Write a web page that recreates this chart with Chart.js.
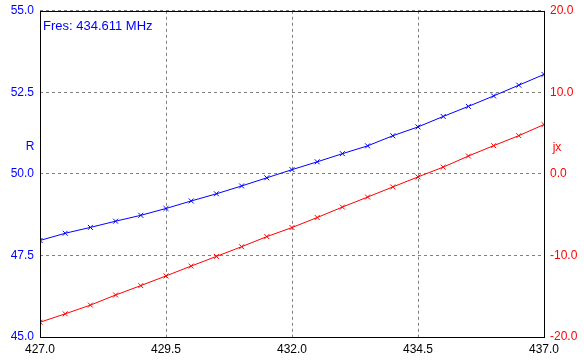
<!DOCTYPE html>
<html>
<head>
<meta charset="utf-8">
<script src="https://cdn.jsdelivr.net/npm/chart.js@4"></script>
<style>
  html, body { margin: 0; padding: 0; background: #fff; }
  #wrap { width: 584px; height: 362px; }
</style>
</head>
<body>
<div id="wrap"><canvas id="imp-chart"></canvas></div>
<script>
const freqs    = [427.0, 427.5, 428.0, 428.5, 429.0, 429.5, 430.0, 430.5, 431.0, 431.5, 432.0,
                  432.5, 433.0, 433.5, 434.0, 434.5, 435.0, 435.5, 436.0, 436.5, 437.0];
const rValues  = [47.96, 48.18, 48.36, 48.55, 48.73, 48.94, 49.17, 49.39, 49.63, 49.88, 50.13,
                  50.37, 50.62, 50.86, 51.17, 51.44, 51.76, 52.07, 52.39, 52.72, 53.05];
const jxValues = [-18.19, -17.16, -16.09, -14.85, -13.70, -12.51, -11.30, -10.12, -8.93, -7.69, -6.58,
                  -5.35, -4.07, -2.84, -1.60, -0.37, 0.83, 2.19, 3.46, 4.69, 6.05];
const xTicks   = [427.0, 429.5, 432.0, 434.5, 437.0];
const rTicks   = [45.0, 47.5, 50.0, 52.5, 55.0];
const jxTicks  = [-20.0, -10.0, 0.0, 10.0, 20.0];
const fresLabel = 'Fres: 434.611 MHz';

const FAMILY = '"Liberation Sans", Arial, sans-serif';
const FONT = { family: FAMILY, size: 12 };
const YFONT = { family: FAMILY, size: 12, lineHeight: 0.8 };  // keeps the top edge near 10px
const BLUE = '#0000ff', RED = '#ff0000';

// frame, the resonance note and the two side labels
const overlay = {
  id: 'overlay',
  afterDraw(chart) {
    const { ctx, chartArea: a } = chart;
    ctx.save();
    ctx.strokeStyle = '#000';
    ctx.lineWidth = 1;
    ctx.setLineDash([]);
    ctx.strokeRect(Math.round(a.left) + 0.5, Math.round(a.top) + 0.5,
                   Math.round(a.right - a.left), Math.round(a.bottom - a.top));
    ctx.textBaseline = 'middle';
    ctx.fillStyle = BLUE;
    ctx.textAlign = 'left';
    ctx.font = `13px ${FAMILY}`;
    ctx.fillText(fresLabel, a.left + 3, a.top + 16);
    ctx.font = `12px ${FAMILY}`;
    ctx.textAlign = 'center';
    ctx.fillText('R', 30, 147);
    ctx.fillStyle = RED;
    ctx.fillText('jx', 557, 148);
    ctx.restore();
  }
};

const fixedTicks = list => scale => { scale.ticks = list.map(v => ({ value: v })); };

new Chart(document.getElementById('imp-chart'), {
  type: 'line',
  data: {
    datasets: [
      {
        label: 'R',
        data: freqs.map((f, i) => ({ x: f, y: rValues[i] })),
        borderColor: BLUE, backgroundColor: BLUE, borderWidth: 1,
        pointStyle: 'crossRot', pointRadius: 3.5, pointBorderWidth: 1,
        tension: 0, yAxisID: 'y',
      },
      {
        label: 'jx',
        data: freqs.map((f, i) => ({ x: f, y: jxValues[i] })),
        borderColor: RED, backgroundColor: RED, borderWidth: 1,
        pointStyle: 'crossRot', pointRadius: 3.5, pointBorderWidth: 1,
        tension: 0, yAxisID: 'y2',
      },
    ]
  },
  options: {
    responsive: true,
    maintainAspectRatio: false,
    animation: false,
    layout: { padding: { top: 10, right: 0, bottom: 0, left: 0 } },
    plugins: { legend: { display: false }, tooltip: { enabled: false } },
    scales: {
      x: {
        type: 'linear', min: 427, max: 437,
        afterBuildTicks: fixedTicks(xTicks),
        afterFit: s => { s.height = 25; },
        grid: { color: '#808080', drawTicks: false },
        border: { display: false, dash: [3, 3] },
        ticks: { color: '#000', font: FONT, padding: 5, maxRotation: 0, callback: v => v.toFixed(1) },
      },
      y: {
        position: 'left', min: 45, max: 55,
        afterBuildTicks: fixedTicks(rTicks),
        afterFit: s => { s.width = 40; },
        grid: { color: '#808080', drawTicks: false },
        border: { display: false, dash: [3, 3] },
        ticks: { color: BLUE, font: YFONT, padding: 6, callback: v => v.toFixed(1) },
      },
      y2: {
        position: 'right', min: -20, max: 20,
        afterBuildTicks: fixedTicks(jxTicks),
        afterFit: s => { s.width = 40; },
        grid: { display: false, drawTicks: false },
        border: { display: false },
        ticks: { color: RED, font: YFONT, padding: 6, callback: v => v.toFixed(1) },
      },
    }
  },
  plugins: [overlay]
});
</script>
</body>
</html>
